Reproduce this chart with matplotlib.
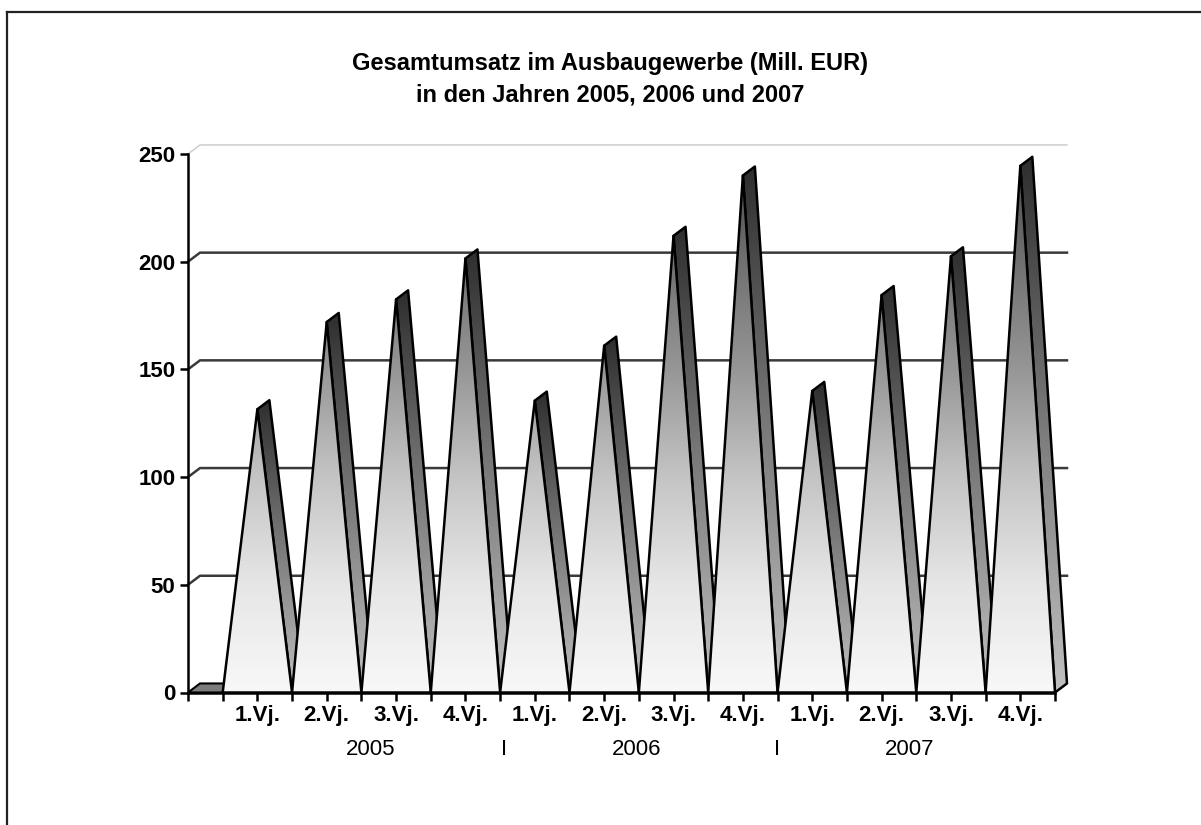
import numpy as np
import matplotlib.pyplot as plt
from matplotlib.patches import Polygon
from matplotlib.colors import LinearSegmentedColormap
from matplotlib.lines import Line2D

plt.rcParams['font.family'] = ['Liberation Sans', 'DejaVu Sans']

# Daten
quartale = ['1.Vj.', '2.Vj.', '3.Vj.', '4.Vj.'] * 3
jahre = ['2005', '2006', '2007']
umsatz = [131.5, 172, 182.5, 201.5, 135.5, 161, 212, 240, 140, 184.5, 202.5, 244.5]
y_ticks = [0, 50, 100, 150, 200, 250]

# 3D-Tiefe in Datenkoordinaten
tiefe_x = 0.173
tiefe_y = 4.2

front_cmap = LinearSegmentedColormap.from_list(
    'front', ['#f8f8f8', '#e6e6e6', '#c4c4c4', '#969696', '#707070', '#4a4a4a'])
seite_cmap = LinearSegmentedColormap.from_list('seite', ['#c0c0c0', '#7a7a7a', '#2e2e2e'])
verlauf = np.linspace(0, 1, 256).reshape(-1, 1)

fig = plt.figure(figsize=(12.01, 8.25), dpi=100)
ax = fig.add_axes([188 / 1201, 1 - 692.5 / 825, 867 / 1201, 538.5 / 825])


def flaeche(punkte, cmap, y0, y1, z):
    poly = Polygon(punkte, closed=True, facecolor='none', edgecolor='black',
                   linewidth=1.8, joinstyle='round', clip_on=False, zorder=z + 0.1)
    ax.add_patch(poly)
    xs = [p[0] for p in punkte]
    im = ax.imshow(verlauf, cmap=cmap, origin='lower', aspect='auto',
                   extent=(min(xs), max(xs), y0, y1), zorder=z, interpolation='bilinear')
    im.set_clip_box(fig.bbox)
    im.set_clip_path(poly)


# Gitterlinien auf der Rueckwand
for g in y_ticks[1:]:
    farbe = '#c8c8c8' if g == 250 else '#3a3a3a'
    lw = 1.0 if g == 250 else 1.8
    ax.plot([0, tiefe_x, 12.5 + tiefe_x], [g, g + tiefe_y, g + tiefe_y],
            color=farbe, linewidth=lw, clip_on=False, zorder=1)

# flache Platte in der ersten (leeren) Kategorie
platte = Polygon([(0, 0), (tiefe_x, tiefe_y), (0.5 + tiefe_x, tiefe_y), (0.5, 0)],
                 closed=True, facecolor='#7c7c7c', edgecolor='black', linewidth=1.5,
                 clip_on=False, zorder=2)
ax.add_patch(platte)

# Dreiecke
for i, v in enumerate(umsatz):
    z = 3 + i
    mitte = i + 1
    seite = [(mitte, v), (mitte + tiefe_x, v + tiefe_y),
             (mitte + 0.5 + tiefe_x, tiefe_y), (mitte + 0.5, 0)]
    flaeche(seite, seite_cmap, 0, v + tiefe_y, z)
    front = [(mitte - 0.5, 0), (mitte, v), (mitte + 0.5, 0)]
    flaeche(front, front_cmap, 0, 250, z + 0.5)

ax.set_xlim(0, 12.5)
ax.set_ylim(0, 250)

for s in ['top', 'right']:
    ax.spines[s].set_visible(False)
for s in ['left', 'bottom']:
    ax.spines[s].set_linewidth(1.8)
    ax.spines[s].set_zorder(30)

ax.set_yticks(y_ticks)
ax.set_yticklabels([str(t) for t in y_ticks], fontweight='bold')
ax.set_xticks(np.arange(1, 13))
ax.set_xticklabels(quartale, fontweight='bold')
ax.set_xticks([0] + list(np.arange(0.5, 12.6, 1.0)), minor=True)
ax.tick_params(axis='y', length=6, width=1.8, labelsize=16, pad=3)
ax.tick_params(axis='x', which='both', length=6, width=1.8, labelsize=16, pad=3)
ax.patch.set_visible(False)

# Jahresbeschriftung
tr = ax.get_xaxis_transform()
jahr_pos = [2.64, 6.47, 10.41]
for pos, jahr in zip(jahr_pos, jahre):
    ax.text(pos, -0.106, jahr, transform=tr, ha='center', va='center', fontsize=16)
for pos in [4.55, 8.5]:
    ax.text(pos, -0.106, 'I', transform=tr, ha='center', va='center', fontsize=16)

fig.text(610 / 1201, 1 - 79 / 825,
         'Gesamtumsatz im Ausbaugewerbe (Mill. EUR)\nin den Jahren 2005, 2006 und 2007',
         ha='center', va='center', fontsize=17, fontweight='bold', linespacing=1.45)

# Rahmen (links und oben)
fig.add_artist(Line2D([7 / 1201, 7 / 1201], [0, 1 - 12 / 825], color='#222222', linewidth=1.6))
fig.add_artist(Line2D([7 / 1201, 1], [1 - 12 / 825, 1 - 12 / 825], color='#222222', linewidth=1.6))

fig.savefig('out.png', dpi=100)
